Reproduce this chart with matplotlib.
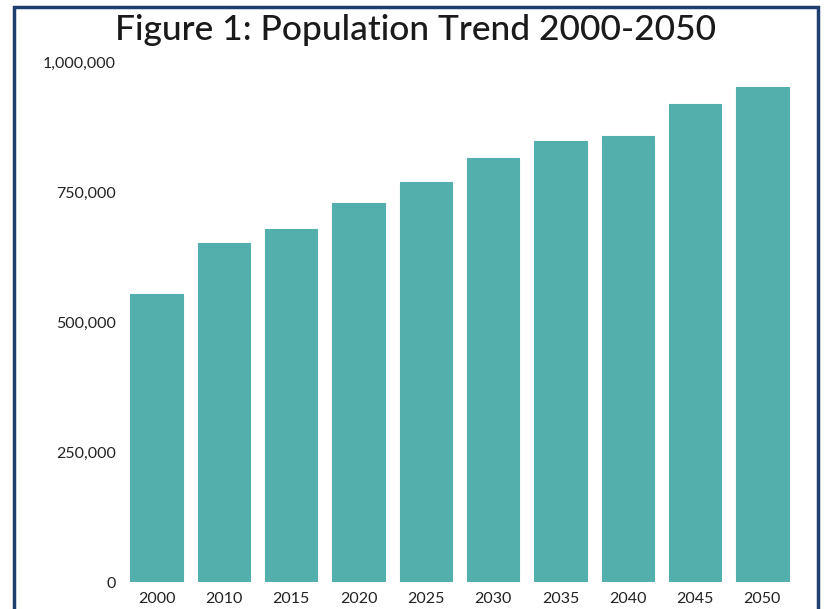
import matplotlib.pyplot as plt
from matplotlib.patches import Rectangle
from matplotlib.ticker import FuncFormatter

years = ["2000", "2010", "2015", "2020", "2025", "2030", "2035", "2040", "2045", "2050"]
population = [554000, 652000, 679000, 729000, 769000, 815000, 848000, 858000, 919000, 952000]
yticks = [0, 250000, 500000, 750000, 1000000]

BAR_COLOR = "#52afac"
BORDER_COLOR = "#1f3f6e"
TEXT_COLOR = "#222222"

plt.rcParams["font.family"] = ["Lato", "DejaVu Sans"]

fig = plt.figure(figsize=(8.24, 6.09), dpi=100)
W, H = 824, 609

# axes placed in pixel terms: left 123, right 796, top 62, bottom 582
ax = fig.add_axes([123 / W, (H - 582) / H, (796 - 123) / W, (582 - 62) / H])
x = range(len(years))
ax.bar(x, population, width=0.78, color=BAR_COLOR, edgecolor=BAR_COLOR, linewidth=0.8)

ax.set_xlim(-0.5, len(years) - 0.5)
ax.set_ylim(0, 1000000)
ax.set_xticks(list(x))
ax.set_xticklabels(years)
ax.set_yticks(yticks)
ax.yaxis.set_major_formatter(FuncFormatter(lambda v, _: f"{int(v):,}"))
ax.tick_params(axis="both", length=0, labelsize=11.5, colors=TEXT_COLOR)
ax.tick_params(axis="y", pad=5)
ax.tick_params(axis="x", pad=7)
for s in ax.spines.values():
    s.set_visible(False)

fig.text(416 / W, 1 - 30 / H, "Figure 1: Population Trend 2000-2050",
         ha="center", va="center", fontsize=25.5, color="#1a1a1a", fontweight="medium")

# dark frame around the figure (open at the bottom edge)
frame = Rectangle((13.5 / W, -0.02), (818 - 13.5) / W, 1 - 7 / H + 0.02,
                  transform=fig.transFigure, fill=False,
                  edgecolor=BORDER_COLOR, linewidth=2.5)
fig.patches.append(frame)

fig.savefig("out.png", dpi=100)
